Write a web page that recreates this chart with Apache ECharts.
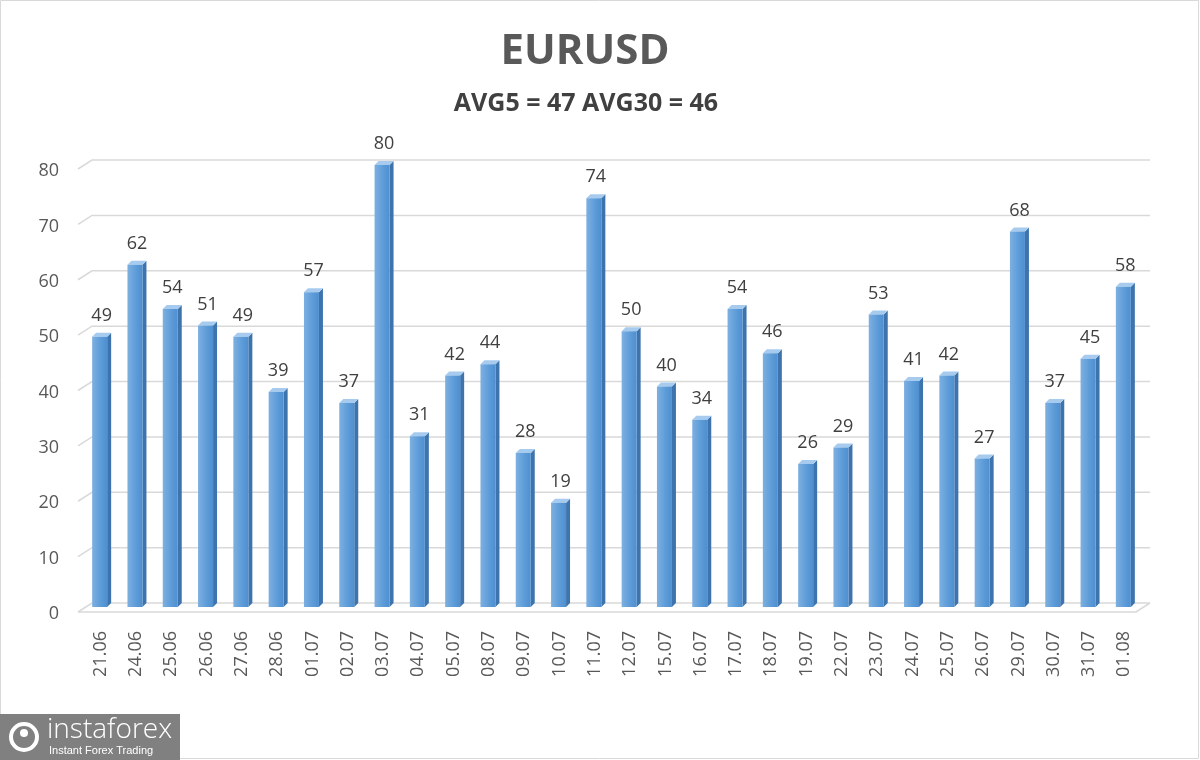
<!DOCTYPE html>
<html><head><meta charset="utf-8">
<script src="https://cdn.jsdelivr.net/npm/echarts@6/dist/echarts.min.js"></script>
<style>html,body{margin:0;padding:0;background:#fff}#c{width:1200px;height:760px}</style>
</head><body><div id="c"></div>
<script>
const categories = ['21.06','24.06','25.06','26.06','27.06','28.06','01.07','02.07','03.07','04.07','05.07','08.07','09.07','10.07','11.07','12.07','15.07','16.07','17.07','18.07','19.07','22.07','23.07','24.07','25.07','26.07','29.07','30.07','31.07','01.08'];
const values = [49,62,54,51,49,39,57,37,80,31,42,44,28,19,74,50,40,34,54,46,26,29,53,41,42,27,68,37,45,58];
const gridTicks = [0,10,20,30,40,50,60,70,80];
const titleText = 'EURUSD';
const subtitleText = 'AVG5 = 47 AVG30 = 46';

const chart = echarts.init(document.getElementById('c'), null, {renderer:'canvas'});
const DX = 14, FRONT = 4, BACK = 5;
chart.setOption({
  backgroundColor:'#fff',
  animation:false,
  title:[
    {text:titleText, left:580, top:26, textAlign:'center', textStyle:{fontFamily:'Open Sans', fontSize:42, fontWeight:'bold', color:'#595959'}},
    {text:subtitleText, left:581, top:86, textAlign:'center', textStyle:{fontFamily:'Open Sans', fontSize:25, fontWeight:'bold', color:'#404040'}}
  ],
  grid:{left:83, right:58, top:165, bottom:152},
  xAxis:{type:'category', data:categories, axisLine:{show:false}, axisTick:{show:false},
    axisLabel:{rotate:90, margin:23, fontFamily:'Open Sans', fontSize:18, color:'#595959'}},
  yAxis:{type:'value', min:0, max:80, interval:10, splitLine:{show:false}, axisLine:{show:false}, axisTick:{show:false},
    axisLabel:{margin:24, verticalAlign:'top', lineHeight:12, fontFamily:'Open Sans', fontSize:18, color:'#595959'}},
  series:[
    {type:'custom', data:gridTicks.map(v=>[0,v]), silent:true, z:1,
      renderItem:function(params, api){
        const p = api.coord([0, api.value(1)]);
        const cs = params.coordSys;
        const y = p[1];
        const x0 = cs.x - 5;
        const x1 = cs.x + cs.width + 8;
        const pts = [[x0, y+FRONT],[x0+DX, y-BACK],[x1, y-BACK]];
        const children = [{type:'polyline', shape:{points:pts}, style:{stroke:'#d9d9d9', lineWidth:1.5, fill:null}}];
        if (api.value(1) === 0) {
          children.push({type:'polyline', shape:{points:[[x0,y+FRONT],[x1-DX,y+FRONT],[x1,y-BACK]]}, style:{stroke:'#d9d9d9', lineWidth:1.5, fill:null}});
        }
        return {type:'group', children:children};
      }},
    {type:'custom', data:values.map((v,i)=>[i,v]), z:3,
      renderItem:function(params, api){
        const top = api.coord([api.value(0), api.value(1)]);
        const base = api.coord([api.value(0), 0]);
        const w = 15, dx = 4, dy = 4;
        const xl = top[0] - w/2 - 1, xr = xl + w;
        const yt = top[1], yb = base[1] - 1;
        return {type:'group', children:[
          {type:'polygon', shape:{points:[[xr,yt],[xr+dx,yt-dy],[xr+dx,yb-dy],[xr,yb]]}, style:{fill:'#3e74ad'}},
          {type:'polygon', shape:{points:[[xl,yt],[xl+dx,yt-dy],[xr+dx,yt-dy],[xr,yt]]}, style:{fill:'#a6cbee'}},
          {type:'rect', shape:{x:xl, y:yt, width:w, height:yb-yt}, style:{fill:new echarts.graphic.LinearGradient(0,0,1,0,[{offset:0,color:'#7db0e1'},{offset:0.6,color:'#5c9bd8'},{offset:1,color:'#4f8fcf'}])}},
          {type:'text', x:top[0]+1, y:yt-12, style:{text:String(api.value(1)), fontFamily:'Open Sans', fontSize:18, fill:'#404040', align:'center', verticalAlign:'bottom'}}
        ]};
      }}
  ],
  graphic:[
    {type:'rect', shape:{x:0.5, y:0.5, width:1198, height:758}, style:{fill:null, stroke:'#d9d9d9', lineWidth:1}, z:0},
    {type:'rect', shape:{x:0, y:714, width:180, height:46}, style:{fill:'#808080'}, z:10},
    {type:'circle', shape:{cx:24, cy:737, r:13}, style:{fill:null, stroke:'#fff', lineWidth:4}, z:11},
    {type:'circle', shape:{cx:24, cy:733, r:4}, style:{fill:'#fff'}, z:11},
    {type:'text', x:47, y:716, style:{text:'instaforex', fontFamily:'Open Sans', fontWeight:300, fontSize:28, fill:'#fff'}, z:11},
    {type:'text', x:49, y:745, style:{text:'Instant Forex Trading', fontFamily:'Liberation Sans', fontSize:11, fill:'#fff'}, z:11}
  ]
});
</script></body></html>
